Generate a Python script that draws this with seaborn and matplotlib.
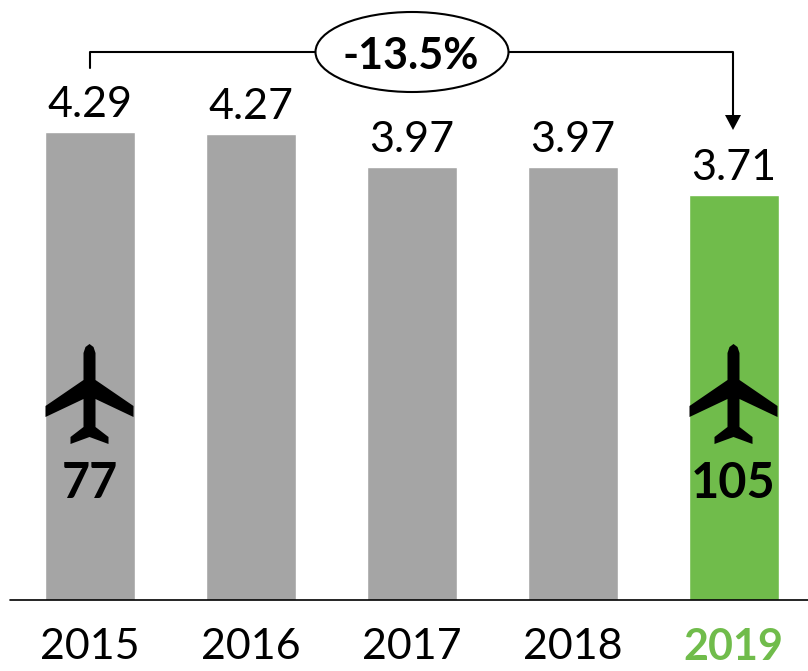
import seaborn as sns
import matplotlib.pyplot as plt
from matplotlib.patches import Ellipse, Polygon
import pandas as pd

years = ['2015', '2016', '2017', '2018', '2019']
values = [4.29, 4.27, 3.97, 3.97, 3.71]
bar_colors = ['#A5A5A5', '#A5A5A5', '#A5A5A5', '#A5A5A5', '#70BC4B']
plane_counts = {0: '77', 4: '105'}
change_label = '-13.5%'

sns.set_theme(style='white')
plt.rcParams['font.family'] = ['Lato', 'DejaVu Sans']

W, H = 808, 671
fig = plt.figure(figsize=(W / 100, H / 100), dpi=100)
ax = fig.add_axes([0, 0, 1, 1])
df = pd.DataFrame({'year': years, 'value': values})
sns.barplot(data=df, x='year', y='value', hue='year', palette=bar_colors,
            legend=False, width=90 / 161, saturation=1, ax=ax)

# one category = 161 px, one unit = 109.1 px, baseline at y=600 px
sx, sy = 161, 109.1
x0 = 89.5
ax.set_xlim(-x0 / sx, (W - x0) / sx)
ax.set_ylim(-(H - 600) / sy, 600 / sy)
ax.axis('off')


def px(x, y):
    return (x - x0) / sx, (600 - y) / sy


ax.plot(*zip(px(10, 600), px(808, 600)), color='black', lw=1.2, clip_on=False)

for i, (year, v) in enumerate(zip(years, values)):
    ax.text(i, v + 27 / sy, f'{v:.2f}', ha='center', va='center', fontsize=31, color='black')
    last = i == len(years) - 1
    ax.text(i, -47 / sy, year, ha='center', va='center', fontsize=31,
            color='#70BC4B' if last else 'black', fontweight='bold' if last else 'normal')

# plane icon outline, pixels relative to bar centre and nose
plane = [(-6, 9), (-4, 3), (0, 0), (4, 3), (6, 9), (6, 36), (44, 62), (44, 73), (6, 55),
         (6, 83), (19, 93), (19, 100), (0, 93), (-19, 100), (-19, 93), (-6, 83),
         (-6, 55), (-44, 73), (-44, 62), (-6, 36)]
for i, count in plane_counts.items():
    cx = x0 + sx * i
    ax.add_patch(Polygon([px(cx + a, 344 + b) for a, b in plane], closed=True,
                         facecolor='black', edgecolor='none', zorder=4))
    ax.text(i, (600 - 483) / sy, count, ha='center', va='center', fontsize=35,
            fontweight='bold', color='black')

# change bracket
ax.plot(*zip(px(90, 68), px(90, 52), px(733, 52), px(733, 118)), color='black', lw=1.5, zorder=3)
ax.add_patch(Polygon([px(725, 115), px(741, 115), px(733, 130)], closed=True, facecolor='black',
                     edgecolor='none', zorder=3))
ax.add_patch(Ellipse(px(412, 52), 193 / sx, 80 / sy, facecolor='white', edgecolor='black',
                     lw=1.5, zorder=4))
ax.text(*px(411, 56), change_label, ha='center', va='center', fontsize=31, fontweight='bold',
        color='black', zorder=5)

fig.savefig('out.png', dpi=100)
